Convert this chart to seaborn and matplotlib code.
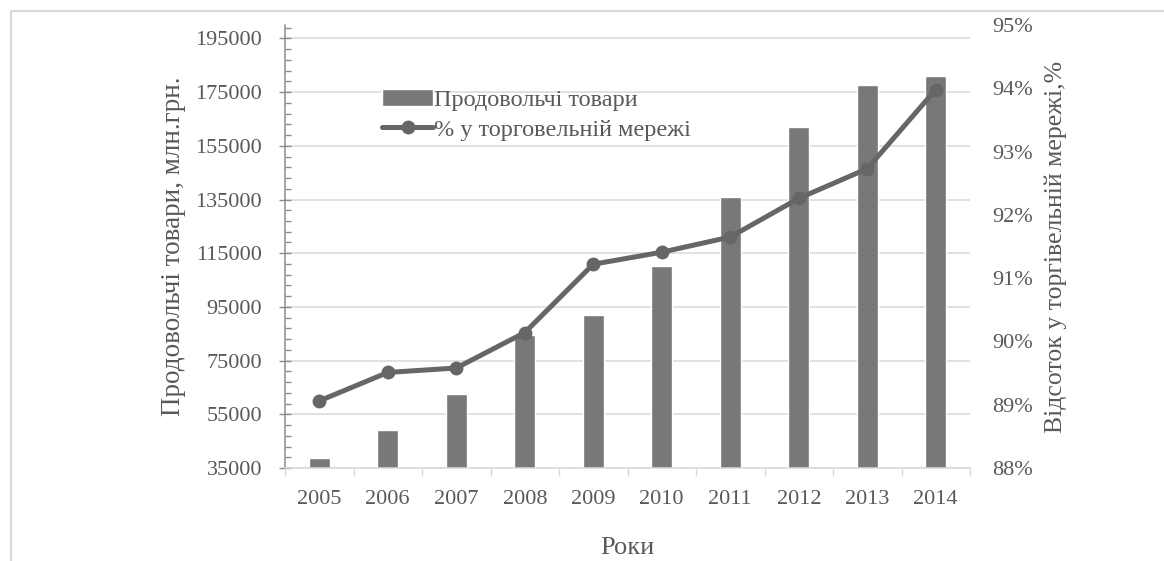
import numpy as np
import pandas as pd
import matplotlib
matplotlib.use("Agg")
import matplotlib.pyplot as plt
import seaborn as sns
from matplotlib.ticker import MultipleLocator, FixedLocator, FuncFormatter
from matplotlib.lines import Line2D

years = ["2005", "2006", "2007", "2008", "2009", "2010", "2011", "2012", "2013", "2014"]
food_goods = [38600, 49150, 62560, 84530, 92100, 110230, 136040, 162100, 177500, 181000]
share_pct = [89.06, 89.51, 89.58, 90.14, 91.22, 91.41, 91.65, 92.26, 92.73, 93.98]

bar_label = "Продовольчі товари"
line_label = "% у торговельній мережі"
left_ylabel = "Продовольчі товари, млн.грн."
right_ylabel = "Відсоток у торгівельній мережі,%"
xlabel = "Роки"

sns.set_theme(style="white")
plt.rcParams["font.family"] = ["Liberation Serif", "DejaVu Serif"]
txt = "#595959"

df = pd.DataFrame({"year": years, "food": food_goods, "pct": share_pct})

fig = plt.figure(figsize=(11.64, 5.61), dpi=100)
ax = fig.add_axes([285 / 1164, 93 / 561, 685 / 1164, 443 / 561])

sns.barplot(data=df, x="year", y="food", color="#787878", saturation=1,
            width=0.31, ax=ax, label=bar_label, zorder=2)
if ax.get_legend() is not None:
    ax.get_legend().remove()
ax.set_ylim(35000, 200000)
ax.set_xlim(-0.5, len(years) - 0.5)
ax.yaxis.set_major_locator(FixedLocator(np.arange(35000, 200001, 20000)))
ax.yaxis.set_minor_locator(FixedLocator(np.arange(35000, 200001, 4000)))
ax.yaxis.set_major_formatter(FuncFormatter(lambda v, p: f"{int(v)}"))
ax.grid(axis="y", which="major", color="#d9d9d9", linewidth=1.1, zorder=0)
ax.set_axisbelow(True)
for s in ["top", "right"]:
    ax.spines[s].set_visible(False)
ax.spines["left"].set_color("#8c8c8c")
ax.spines["left"].set_linewidth(1.1)
ax.spines["bottom"].set_color("#d9d9d9")
ax.spines["bottom"].set_linewidth(1.1)
ax.tick_params(axis="y", which="major", direction="inout", length=9, width=1,
               color="#8c8c8c", labelsize=16, labelcolor=txt, pad=12, left=True)
ax.tick_params(axis="y", which="minor", direction="in", length=4, width=1,
               color="#8c8c8c", left=True)
ax.xaxis.set_minor_locator(FixedLocator(np.arange(-0.5, len(years), 1.0)))
ax.tick_params(axis="x", which="major", length=0, labelsize=16, labelcolor=txt, pad=16)
ax.tick_params(axis="x", which="minor", direction="out", length=6, width=1,
               color="#d9d9d9", bottom=True)
ax.set_xlabel(xlabel, fontsize=19, color=txt, labelpad=20)
ax.set_ylabel(left_ylabel, fontsize=19.5, color=txt, labelpad=7)

ax2 = ax.twinx()
sns.lineplot(data=df, x="year", y="pct", ax=ax2, color="#666666", linewidth=3.6,
             marker="o", markersize=10, markeredgewidth=0, label=line_label,
             zorder=3, legend=False)
ax2.set_ylim(88, 95)
ax2.set_xlim(-0.5, len(years) - 0.5)
ax2.yaxis.set_major_locator(MultipleLocator(1))
ax2.yaxis.set_major_formatter(FuncFormatter(lambda v, p: f"{v:.0f}%"))
for s in ["top", "right", "left", "bottom"]:
    ax2.spines[s].set_visible(False)
ax2.tick_params(axis="y", length=0, labelsize=16, labelcolor=txt, pad=16)
ax2.grid(False)
ax2.set_ylabel(right_ylabel, fontsize=18.5, color=txt, labelpad=8)

h1, l1 = ax.get_legend_handles_labels()
h2, l2 = ax2.get_legend_handles_labels()
leg = ax2.legend(h1 + h2, l1 + l2, loc="upper left", bbox_to_anchor=(0.11, 0.905),
                 frameon=False, fontsize=17.5, handlelength=2.1, handletextpad=0.05,
                 labelspacing=0.32, labelcolor=txt)

fig.add_artist(Line2D([11 / 1164, 11 / 1164], [0, 1 - 11 / 561], transform=fig.transFigure,
                      color="#d9d9d9", linewidth=1.5))
fig.add_artist(Line2D([11 / 1164, 1], [1 - 11 / 561, 1 - 11 / 561], transform=fig.transFigure,
                      color="#d9d9d9", linewidth=1.5))

fig.savefig("out.png", dpi=100)
